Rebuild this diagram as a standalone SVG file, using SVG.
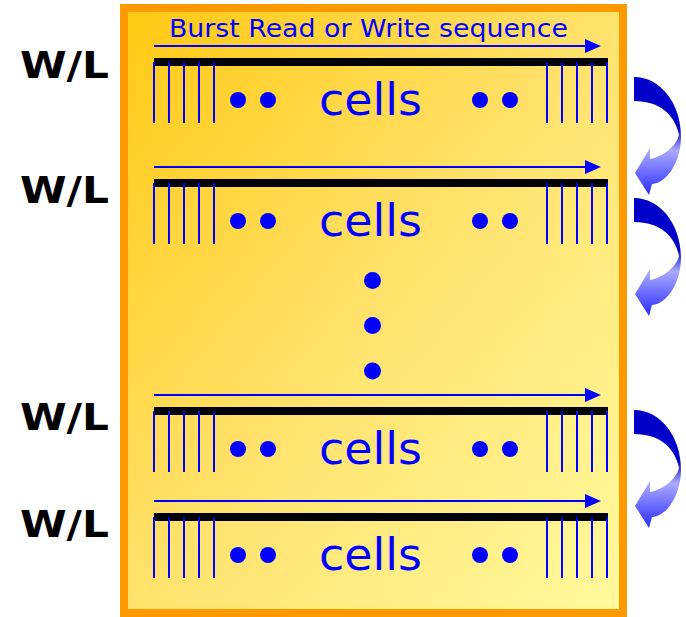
<svg xmlns="http://www.w3.org/2000/svg" xmlns:xlink="http://www.w3.org/1999/xlink" width="686" height="617" viewBox="0 0 686 617">
  <style>
    .wl { font-family: "DejaVu Sans", Verdana, sans-serif; font-weight: bold; font-size: 37px; fill: #000000; }
    .cells { font-family: "DejaVu Sans", Verdana, sans-serif; font-size: 44px; fill: #0000FF; }
    .title { font-family: "DejaVu Sans", Verdana, sans-serif; font-size: 25.5px; fill: #0000FF; }
    .bl { stroke: #0000FF; stroke-width: 2; fill: none; }
    .dot { fill: #0000FF; }
    .bar { fill: #000000; }
  </style>
  <defs>
    <linearGradient id="bg" x1="0" y1="0" x2="1" y2="1">
      <stop offset="0" stop-color="#FFC912"/>
      <stop offset="0.5" stop-color="#FFE26C"/>
      <stop offset="1" stop-color="#FFFA9E"/>
    </linearGradient>
    <linearGradient id="ca" x1="0" y1="77" x2="0" y2="195" gradientUnits="userSpaceOnUse">
      <stop offset="0" stop-color="#0000C8"/>
      <stop offset="0.44" stop-color="#0000CC"/>
      <stop offset="0.62" stop-color="#ABABFF"/>
      <stop offset="1" stop-color="#2A2AFF"/>
    </linearGradient>
    <polygon id="ah" points="585,39 601,46 585,53" fill="#0000FF"/>
    <g id="row">
      <line class="bl" x1="154" y1="46" x2="588" y2="46"/>
      <use xlink:href="#ah"/>
      <rect class="bar" x="154" y="58" width="454" height="8"/>
      <path class="bl" d="M154,62V123M169,62V123M184,62V123M199,62V123M214,62V123M547,62V123M562,62V123M577,62V123M592,62V123M607,62V123"/>
      <circle class="dot" cx="238" cy="100" r="8"/>
      <circle class="dot" cx="268" cy="100" r="8"/>
      <circle class="dot" cx="480" cy="100" r="8"/>
      <circle class="dot" cx="510" cy="100" r="8"/>
      <text class="cells" x="319" y="115" textLength="103" lengthAdjust="spacingAndGlyphs">cells</text>
    </g>
    <path id="curv" fill="url(#ca)" d="M634,77 C660,77 681,103 681,137 C681,160 668,183 652,184 L649,195 L635,173 L650,148 L650,159 C662,157 676,147 679,135 C675,115 660,101 634,101 Z"/>
  </defs>

  <g id="frame">
    <rect x="124" y="8" width="499" height="605" fill="url(#bg)" stroke="#FF9900" stroke-width="8"/>
  </g>

  <g id="title">
    <text class="title" x="169" y="37" textLength="399" lengthAdjust="spacingAndGlyphs">Burst Read or Write sequence</text>
  </g>

  <g id="labels">
    <text class="wl" x="20" y="78" textLength="89" lengthAdjust="spacingAndGlyphs">W/L</text>
    <text class="wl" x="20" y="203" textLength="89" lengthAdjust="spacingAndGlyphs">W/L</text>
    <text class="wl" x="20" y="430" textLength="89" lengthAdjust="spacingAndGlyphs">W/L</text>
    <text class="wl" x="20" y="536.5" textLength="89" lengthAdjust="spacingAndGlyphs">W/L</text>
  </g>

  <g id="row1"><use xlink:href="#row"/></g>
  <g id="row2"><use xlink:href="#row" transform="translate(0,121)"/></g>
  <g id="row3"><use xlink:href="#row" transform="translate(0,349)"/></g>
  <g id="row4"><use xlink:href="#row" transform="translate(0,455)"/></g>

  <g id="vdots">
    <circle class="dot" cx="372.5" cy="280.5" r="8.5"/>
    <circle class="dot" cx="372.5" cy="325.5" r="8.5"/>
    <circle class="dot" cx="372.5" cy="371" r="8.5"/>
  </g>

  <g id="connectors">
    <use xlink:href="#curv"/>
    <use xlink:href="#curv" transform="translate(0,121)"/>
    <use xlink:href="#curv" transform="translate(0,333)"/>
  </g>
</svg>
